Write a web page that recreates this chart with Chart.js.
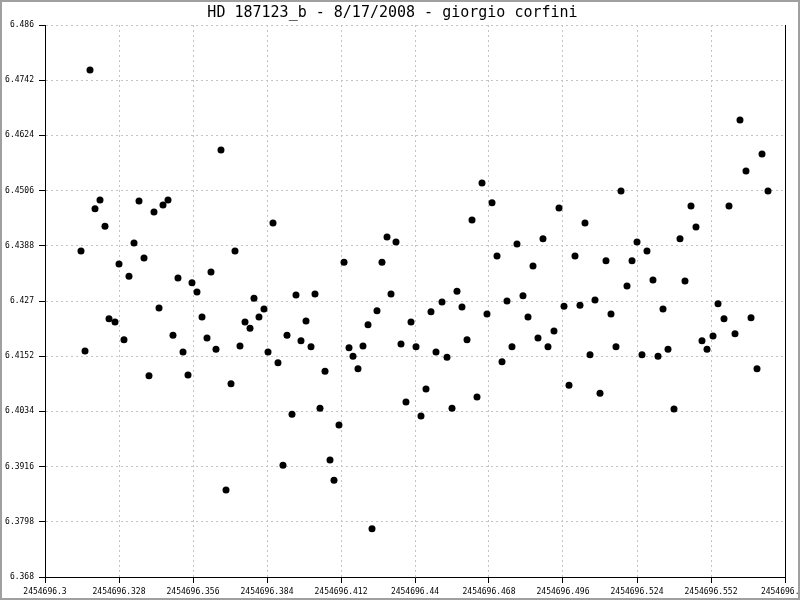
<!DOCTYPE html>
<html>
<head>
<meta charset="utf-8">
<script src="https://cdn.jsdelivr.net/npm/chart.js@4.4.1/dist/chart.umd.min.js"></script>
<style>
  body { margin: 0; background: #fff; }
  #wrap { width: 800px; height: 600px; }
</style>
</head>
<body>
<div id="wrap"><canvas id="myChart" width="800" height="600"></canvas></div>
<script>
const chartTitle = 'HD 187123_b - 8/17/2008 - giorgio corfini';

// julian date of each observation
const jd = [
    2454696.31362, 2454696.31514, 2454696.31703, 2454696.31892, 2454696.32081, 2454696.32270,
    2454696.32422, 2454696.32649, 2454696.32800, 2454696.32989, 2454696.33178, 2454696.33368,
    2454696.33557, 2454696.33746, 2454696.33935, 2454696.34124, 2454696.34314, 2454696.34465,
    2454696.34654, 2454696.34843, 2454696.35032, 2454696.35222, 2454696.35411, 2454696.35562,
    2454696.35751, 2454696.35941, 2454696.36130, 2454696.36281, 2454696.36470, 2454696.36659,
    2454696.36849, 2454696.37038, 2454696.37189, 2454696.37378, 2454696.37568, 2454696.37757,
    2454696.37908, 2454696.38097, 2454696.38286, 2454696.38438, 2454696.38627, 2454696.38816,
    2454696.39005, 2454696.39157, 2454696.39346, 2454696.39497, 2454696.39686, 2454696.39876,
    2454696.40065, 2454696.40216, 2454696.40405, 2454696.40595, 2454696.40784, 2454696.40935,
    2454696.41124, 2454696.41314, 2454696.41503, 2454696.41654, 2454696.41843, 2454696.42032,
    2454696.42222, 2454696.42373, 2454696.42562, 2454696.42751, 2454696.42941, 2454696.43092,
    2454696.43281, 2454696.43470, 2454696.43659, 2454696.43849, 2454696.44038, 2454696.44227,
    2454696.44416, 2454696.44605, 2454696.44795, 2454696.45022, 2454696.45211, 2454696.45400,
    2454696.45589, 2454696.45778, 2454696.45968, 2454696.46157, 2454696.46346, 2454696.46535,
    2454696.46724, 2454696.46914, 2454696.47103, 2454696.47292, 2454696.47481, 2454696.47670,
    2454696.47859, 2454696.48086, 2454696.48276, 2454696.48465, 2454696.48654, 2454696.48843,
    2454696.49032, 2454696.49259, 2454696.49449, 2454696.49638, 2454696.49827, 2454696.50054,
    2454696.50243, 2454696.50432, 2454696.50622, 2454696.50811, 2454696.51000, 2454696.51227,
    2454696.51416, 2454696.51605, 2454696.51795, 2454696.52022, 2454696.52211, 2454696.52400,
    2454696.52589, 2454696.52778, 2454696.53005, 2454696.53195, 2454696.53384, 2454696.53573,
    2454696.53800, 2454696.54027, 2454696.54216, 2454696.54443, 2454696.54632, 2454696.54859,
    2454696.55049, 2454696.55276, 2454696.55465, 2454696.55692, 2454696.55881, 2454696.56108,
    2454696.56297, 2454696.56524, 2454696.56714, 2454696.56941, 2454696.57130, 2454696.57357
];

// magnitude
const mag = [
    6.4377, 6.4163, 6.4764, 6.4467, 6.4486, 6.4430,
    6.4232, 6.4225, 6.4349, 6.4187, 6.4323, 6.4394,
    6.4484, 6.4362, 6.4110, 6.4460, 6.4255, 6.4475,
    6.4486, 6.4197, 6.4319, 6.4161, 6.4112, 6.4309,
    6.4289, 6.4236, 6.4191, 6.4332, 6.4167, 6.4593,
    6.3866, 6.4093, 6.4377, 6.4174, 6.4225, 6.4212,
    6.4276, 6.4236, 6.4253, 6.4161, 6.4437, 6.4138,
    6.3919, 6.4197, 6.4028, 6.4283, 6.4185, 6.4227,
    6.4172, 6.4285, 6.4041, 6.4120, 6.3930, 6.3887,
    6.4005, 6.4353, 6.4170, 6.4152, 6.4125, 6.4174,
    6.4219, 6.3783, 6.4249, 6.4353, 6.4407, 6.4285,
    6.4396, 6.4178, 6.4054, 6.4225, 6.4172, 6.4024,
    6.4082, 6.4247, 6.4161, 6.4268, 6.4150, 6.4041,
    6.4291, 6.4257, 6.4187, 6.4443, 6.4065, 6.4522,
    6.4242, 6.4480, 6.4366, 6.4140, 6.4270, 6.4172,
    6.4392, 6.4281, 6.4236, 6.4345, 6.4191, 6.4403,
    6.4172, 6.4206, 6.4469, 6.4259, 6.4090, 6.4366,
    6.4261, 6.4437, 6.4155, 6.4272, 6.4073, 6.4356,
    6.4242, 6.4172, 6.4505, 6.4302, 6.4356, 6.4396,
    6.4155, 6.4377, 6.4315, 6.4152, 6.4253, 6.4167,
    6.4039, 6.4403, 6.4313, 6.4473, 6.4428, 6.4185,
    6.4167, 6.4195, 6.4264, 6.4232, 6.4473, 6.4200,
    6.4657, 6.4548, 6.4234, 6.4125, 6.4584, 6.4505
];

const xTicks = [2454696.3, 2454696.328, 2454696.356, 2454696.384, 2454696.412, 2454696.44,
    2454696.468, 2454696.496, 2454696.524, 2454696.552, 2454696.58];
const xTickLabels = ['2454696.3', '2454696.328', '2454696.356', '2454696.384', '2454696.412', '2454696.44',
    '2454696.468', '2454696.496', '2454696.524', '2454696.552', '2454696.58'];
const yTicks = [6.368, 6.3798, 6.3916, 6.4034, 6.4152, 6.427, 6.4388, 6.4506, 6.4624, 6.4742, 6.486];
const yTickLabels = ['6.368', '6.3798', '6.3916', '6.4034', '6.4152', '6.427', '6.4388', '6.4506', '6.4624', '6.4742', '6.486'];

const points = jd.map((t, i) => ({ x: t, y: mag[i] }));

const tickFont = { family: 'DejaVu Sans Mono', size: 8 };

// right hand axis line and grey frame around the picture
const framePlugin = {
    id: 'frame',
    afterDraw(chart) {
        const c = chart.ctx;
        const a = chart.chartArea;
        c.save();
        c.strokeStyle = '#000';
        c.lineWidth = 1;
        c.beginPath();
        c.moveTo(Math.round(a.right) + 0.5, a.top);
        c.lineTo(Math.round(a.right) + 0.5, a.bottom);
        c.stroke();
        c.strokeStyle = '#a0a0a0';
        c.lineWidth = 2;
        c.strokeRect(1, 1, chart.width - 2, chart.height - 2);
        c.restore();
    }
};

// labels may hang over the edge, like the original
function noLabelPadding(scale) {
    scale.paddingLeft = 0;
    scale.paddingRight = 0;
    scale.paddingTop = 0;
    scale.paddingBottom = 0;
}

var ctx = document.getElementById('myChart').getContext('2d');

var myChart = new Chart(ctx, { //eslint-disable-line
    type: 'scatter',
    data: {
        datasets: [{
            data: points,
            backgroundColor: '#000',
            borderWidth: 0,
            pointRadius: 3.5
        }]
    },
    options: {
        responsive: false,
        animation: false,
        layout: {
            autoPadding: false,
            padding: { left: 0, right: 15, top: 0, bottom: 0 }
        },
        plugins: {
            legend: { display: false },
            tooltip: { enabled: false },
            title: {
                display: true,
                text: chartTitle,
                color: '#000',
                font: { family: 'DejaVu Sans Mono', size: 15, weight: 'normal' },
                padding: { top: 4, bottom: 3 }
            }
        },
        scales: {
            x: {
                type: 'linear',
                min: 2454696.3,
                max: 2454696.58,
                afterBuildTicks: (scale) => { scale.ticks = xTicks.map(v => ({ value: v })); },
                afterFit: (scale) => { scale.height = 23; noLabelPadding(scale); },
                ticks: {
                    autoSkip: false,
                    maxRotation: 0,
                    color: '#000',
                    font: tickFont,
                    padding: 4,
                    callback: (v, i) => xTickLabels[i]
                },
                grid: { color: '#c4c4c4', tickColor: '#000', tickLength: 6 },
                border: { color: '#000', width: 1, dash: [2, 3] }
            },
            y: {
                type: 'linear',
                min: 6.368,
                max: 6.486,
                afterBuildTicks: (scale) => { scale.ticks = yTicks.map(v => ({ value: v })); },
                afterFit: (scale) => { scale.width = 45; noLabelPadding(scale); },
                ticks: {
                    autoSkip: false,
                    color: '#000',
                    font: tickFont,
                    padding: 5,
                    callback: (v, i) => yTickLabels[i]
                },
                grid: { color: '#c4c4c4', tickColor: '#000', tickLength: 6 },
                border: { color: '#000', width: 1, dash: [2, 3] }
            }
        }
    },
    plugins: [framePlugin]
});
</script>
</body>
</html>
